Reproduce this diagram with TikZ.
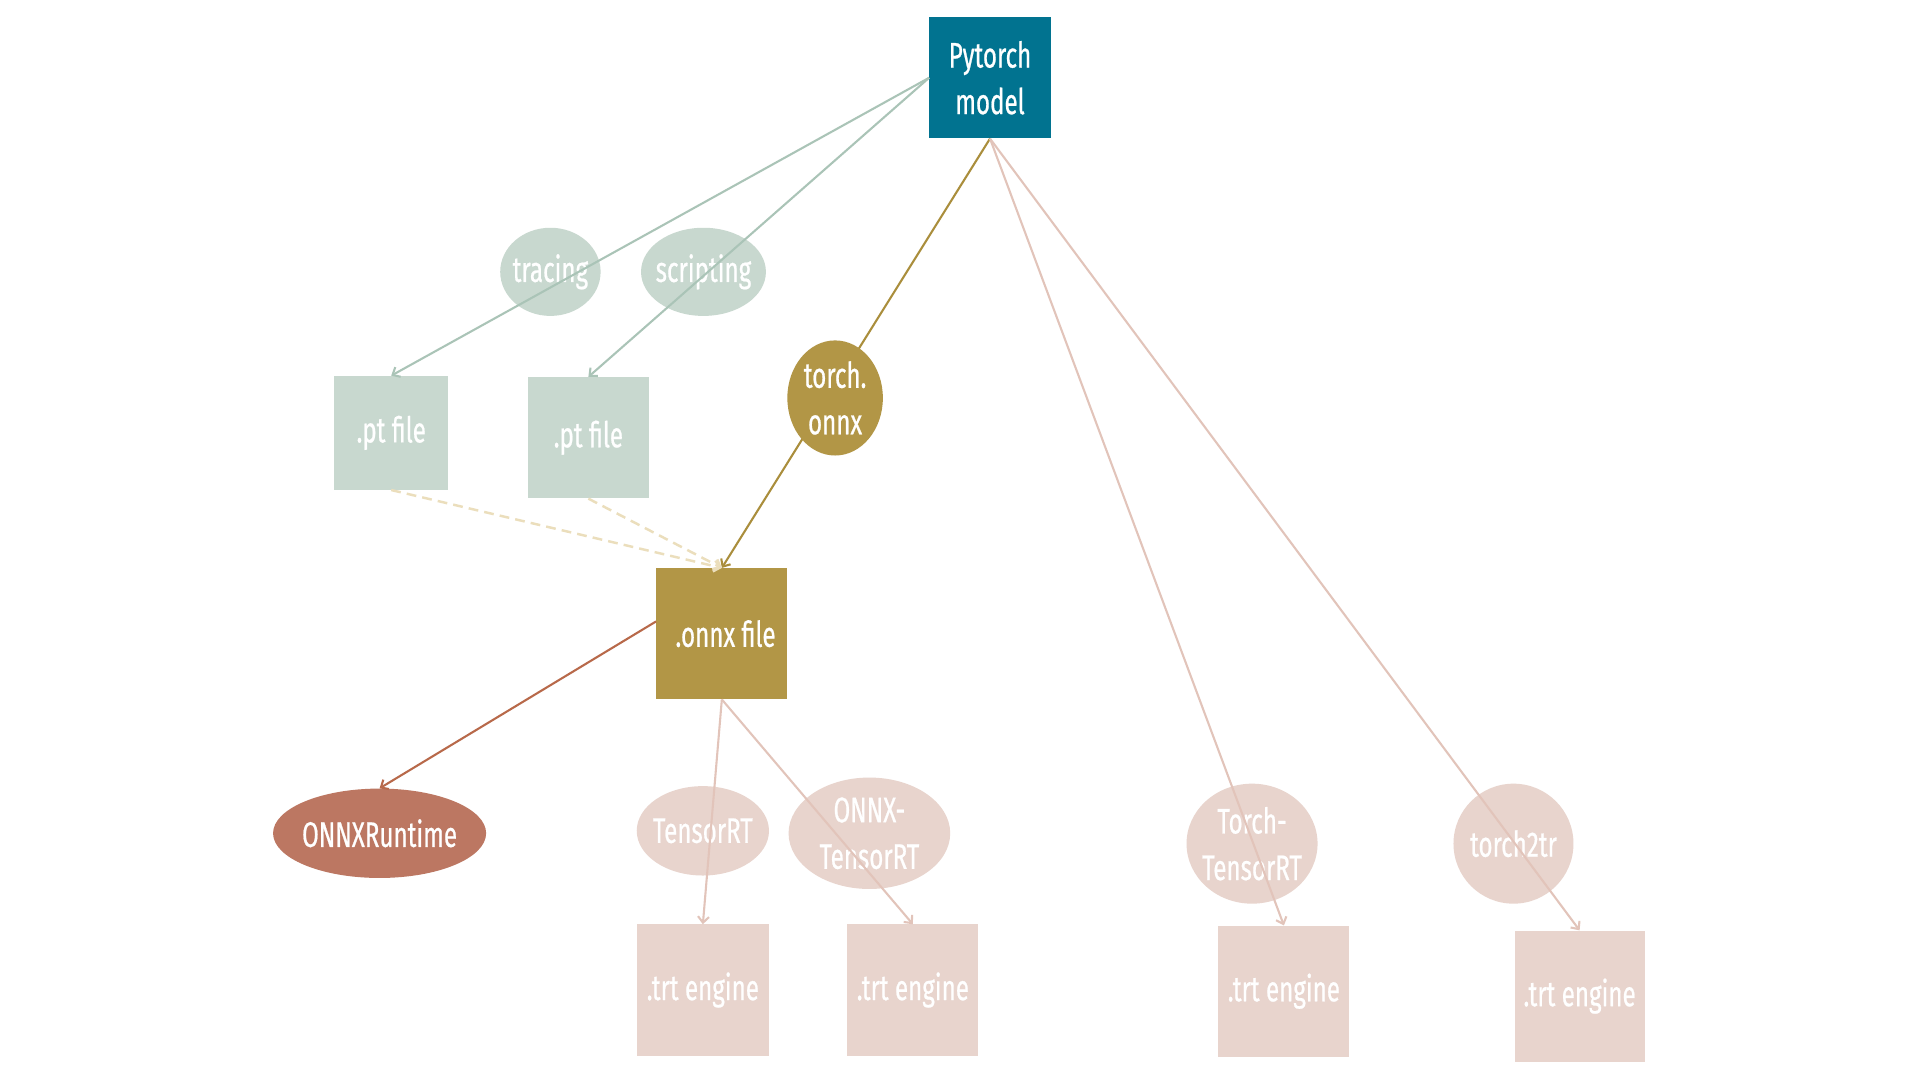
\documentclass[tikz,border=0pt]{standalone}
\usepackage{fontspec}
\setmainfont{Fira Sans}[FakeStretch=0.68,FakeBold=0.6]
\usetikzlibrary{shapes.geometric,arrows.meta}
\definecolor{teal}{RGB}{1,115,144}
\definecolor{sage}{RGB}{200,216,207}
\definecolor{sageline}{RGB}{170,196,183}
\definecolor{gold}{RGB}{178,150,70}
\definecolor{goldline}{RGB}{170,142,60}
\definecolor{pinkf}{RGB}{232,212,205}
\definecolor{pinkline}{RGB}{226,196,186}
\definecolor{rust}{RGB}{188,119,98}
\definecolor{rustline}{RGB}{184,105,74}
\definecolor{beige}{RGB}{235,222,188}
\tikzset{
  txt/.style={text=white,font=\fontsize{29}{38}\selectfont,align=center,inner sep=0pt},
  boxn/.style={txt,rectangle},
  elln/.style={ellipse,inner sep=0pt},
  etxt/.style={txt},
  conn/.style={line width=1.7pt,-{Straight Barb[length=5pt,width=9pt]}},
  sagec/.style={conn,draw=sageline},
  goldc/.style={conn,draw=goldline},
  pinkc/.style={conn,draw=pinkline},
  rustc/.style={conn,draw=rustline},
  dashc/.style={conn,draw=beige,line width=2pt,dash pattern=on 8pt off 5pt}
}
\begin{document}
\begin{tikzpicture}[x=1pt,y=-1pt]
\useasboundingbox[fill=white] (0,0) rectangle (1568,882);
% nodes
\node[boxn,fill=teal,minimum width=99pt,minimum height=99pt] (pm) at (808.5,63.5) {Pytorch\\model};
\node[elln,fill=sage,minimum width=82pt,minimum height=72pt,label={[etxt]center:tracing}] (tr) at (449.5,222) {};
\node[elln,fill=sage,minimum width=102pt,minimum height=72pt,label={[etxt]center:scripting}] (sc) at (574.5,222) {};
\node[boxn,fill=sage,minimum width=93pt,minimum height=93pt] (pt1) at (319.5,353.5) {.pt file};
\node[boxn,fill=sage,minimum width=99pt,minimum height=99pt] (pt2) at (480.5,357.5) {.pt file};
\node[boxn,fill=gold,minimum width=107pt,minimum height=107pt] (onnx) at (589.5,517.5) {\hspace*{6pt}.onnx file};
\draw[goldc] (pm.south) -- (onnx.north);
\node[elln,fill=gold,minimum width=78pt,minimum height=94pt,label={[etxt]center:torch.\\onnx}] (to) at (682,325) {};
\node[elln,fill=rust,minimum width=174pt,minimum height=73pt,label={[etxt]center:ONNXRuntime}] (ort) at (310,680.5) {};
\node[elln,fill=pinkf,minimum width=108pt,minimum height=73pt,label={[etxt]center:TensorRT}] (trt) at (574,678.5) {};
\node[elln,fill=pinkf,minimum width=132pt,minimum height=91pt,label={[etxt]center:ONNX-\\TensorRT}] (otrt) at (710,680.5) {};
\node[elln,fill=pinkf,minimum width=107pt,minimum height=98pt,label={[etxt]center:Torch-\\TensorRT}] (ttrt) at (1022.5,689) {};
\node[elln,fill=pinkf,minimum width=98pt,minimum height=98pt,label={[etxt]center:torch2tr}] (t2t) at (1236,689) {};
\node[boxn,fill=pinkf,minimum width=108pt,minimum height=107pt] (e1) at (574,808.5) {.trt engine};
\node[boxn,fill=pinkf,minimum width=107pt,minimum height=107pt] (e2) at (745.5,808.5) {.trt engine};
\node[boxn,fill=pinkf,minimum width=107pt,minimum height=107pt] (e3) at (1048.5,809.5) {.trt engine};
\node[boxn,fill=pinkf,minimum width=106pt,minimum height=107pt] (e4) at (1290,813.5) {.trt engine};
% connectors
\draw[sagec] (pm.west) -- (pt1.north);
\draw[sagec] (pm.west) -- (pt2.north);
\draw[pinkc] (pm.south) -- (e3.north);
\draw[pinkc] (pm.south) -- (e4.north);
\draw[dashc] (pt1.south) -- (onnx.north);
\draw[dashc] (pt2.south) -- (onnx.north);
\draw[rustc] ([yshift=10pt]onnx.west) -- (ort.north);
\draw[pinkc] (onnx.south) -- (e1.north);
\draw[pinkc] (onnx.south) -- (e2.north);
\end{tikzpicture}
\end{document}
